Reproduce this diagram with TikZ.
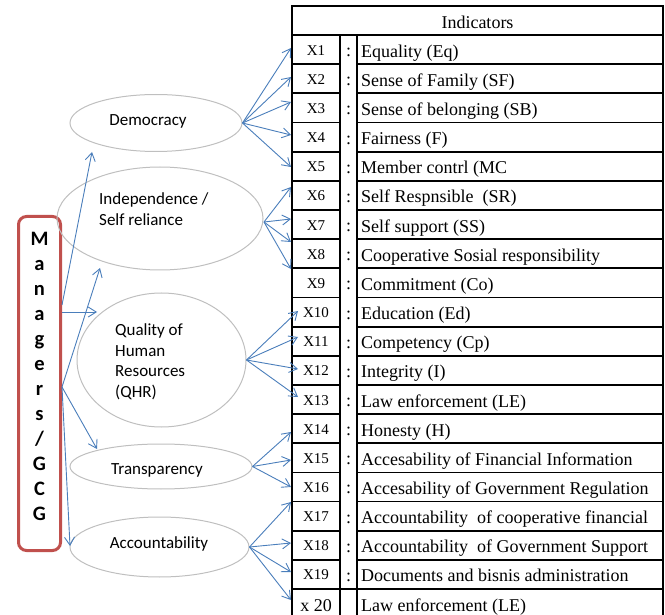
\documentclass[tikz,border=0pt]{standalone}
\usepackage{fontspec}
\setmainfont{Liberation Serif}
\newfontfamily\calfont{Carlito}
\usetikzlibrary{shapes.geometric,arrows.meta}
\definecolor{arrowblue}{HTML}{4A7EBB}
\definecolor{boxred}{HTML}{C0504D}
\definecolor{ellgray}{HTML}{BFBFBF}
\begin{document}
\begin{tikzpicture}[x=1pt,y=-1pt,
  ell/.style={draw=ellgray, line width=1pt, ellipse, inner sep=0pt},
  etxt/.style={inner sep=0pt, font=\calfont\fontsize{17}{20.5}\selectfont},
  arr/.style={draw=arrowblue, line width=0.9pt, -{Straight Barb[length=8pt,width=10pt]}},
  tbl/.style={draw=black, line width=1.8pt, line cap=rect},
  ttxt/.style={inner sep=0pt, font=\fontsize{18}{21}\selectfont},
  xtxt/.style={inner sep=0pt, font=\fontsize{15}{18}\selectfont}]
\useasboundingbox (0,0) rectangle (665,615);
\clip (0,0) rectangle (665,615);

% Managers box
\node[draw=boxred, line width=3pt, rounded corners=8pt, minimum width=42pt, minimum height=334pt, inner sep=0pt] (mgr) at (39.5,383.5) {};
\node[inner sep=0pt, anchor=north, align=center, font=\calfont\bfseries\fontsize{20.5}{25}\selectfont] (mgrtxt) at (39.5,232) {M\\a\\n\\a\\g\\e\\r\\s\\/\\G\\C\\G};

% Ellipses
\node[ell, minimum width=172pt, minimum height=57pt] (dem) at (156,123) {};
\node[ell, minimum width=206pt, minimum height=103pt] (ind) at (160,218.5) {};
\node[ell, minimum width=169pt, minimum height=134pt] (qhr) at (161.5,360) {};
\node[ell, minimum width=182pt, minimum height=45pt] (tra) at (161,466.5) {};
\node[ell, minimum width=179pt, minimum height=60pt] (acc) at (159.5,547) {};

% Ellipse texts
\node[etxt, anchor=base] (demt) at (148,126) {Democracy};
\node[etxt, anchor=base west] (indt1) at (99,205) {Independence /};
\node[etxt, anchor=base west] (indt2) at (99,226) {Self reliance};
\node[etxt, anchor=base west] (qhrt1) at (115,335.5) {Quality of};
\node[etxt, anchor=base west] (qhrt2) at (115,356) {Human};
\node[etxt, anchor=base west] (qhrt3) at (115,376.5) {Resources};
\node[etxt, anchor=base west] (qhrt4) at (115,397) {(QHR)};
\node[etxt, anchor=base] (trat) at (157,474) {Transparency};
\node[etxt, anchor=base] (acct) at (159,548) {Accountability};

% Table lines
\draw[tbl] (292,6) rectangle (663,640);
\draw[tbl] (292,35) -- (663,35);
\foreach \k in {1,...,18} {
  \pgfmathsetmacro\yy{35+29.16*\k}
  \draw[tbl] (292,\yy) -- (340,\yy);
  \draw[tbl] (357,\yy) -- (663,\yy);
}
\draw[tbl] (292,589) -- (663,589);
\draw[tbl] (340,35) -- (340,640);
\draw[tbl] (357,35) -- (357,640);

\node[ttxt, anchor=base] (hdr) at (477.5,28.3) {Indicators};

% Table rows
\foreach \k/\lab/\txt in {
  1/X1/Equality (Eq),
  2/X2/Sense of Family (SF),
  3/X3/Sense of belonging (SB),
  4/X4/Fairness (F),
  5/X5/Member contrl (MC,
  6/X6/Self Respnsible\ \ (SR),
  7/X7/Self support (SS),
  8/X8/Cooperative Sosial responsibility,
  9/X9/Commitment (Co),
  10/X10/Education (Ed),
  11/X11/Competency (Cp),
  12/X12/Integrity (I),
  13/X13/Law enforcement (LE),
  14/X14/Honesty (H),
  15/X15/Accesability of Financial Information,
  16/X16/Accesability of Government Regulation,
  17/X17/Accountability\ \ of cooperative financial,
  18/X18/Accountability\ \ of Government Support,
  19/X19/Documents and bisnis administration} {
  \pgfmathsetmacro\cy{35+29.16*(\k-0.5)}
  \node[xtxt, anchor=base] (lab\k) at (316,\cy+5.5) {\lab};
  \node[ttxt, anchor=base] (col\k) at (348.5,\cy+7) {:};
  \node[ttxt, anchor=base west] (txt\k) at (361,\cy+7.5) {\txt};
}
\node[ttxt, anchor=base] (lab20) at (316,611.5) {x 20};
\node[ttxt, anchor=base west] (txt20) at (361,611.5) {Law enforcement (LE)};

% Target coordinates
\coordinate (t1) at (291,48);
\coordinate (t2) at (291,77);
\coordinate (t3) at (291,102);
\coordinate (t4) at (291,135);
\coordinate (t5) at (291,167);
\coordinate (t6) at (291,187);
\coordinate (t7) at (291,219);
\coordinate (t8) at (291,242);
\coordinate (t9) at (291,269);
\coordinate (t10) at (298,311);
\coordinate (t11) at (298,337);
\coordinate (t12) at (298,369);
\coordinate (t13) at (298,397);
\coordinate (t14) at (291,432);
\coordinate (t15) at (291,460);
\coordinate (t16) at (291,487);
\coordinate (t17) at (291,502);
\coordinate (t18) at (291,543);
\coordinate (t19) at (291,572);
\coordinate (t20) at (291,600);

\coordinate (indsrc) at (264,222);

\foreach \t in {1,...,5} \draw[arr] (dem.east) -- (t\t);
\foreach \t in {6,...,9} \draw[arr] (indsrc) -- (t\t);
\foreach \t in {10,...,13} \draw[arr] (qhr.east) -- (t\t);
\foreach \t in {14,...,16} \draw[arr] (tra.east) -- (t\t);
\foreach \t in {17,...,20} \draw[arr] (acc.east) -- (t\t);

% Managers arrows
\coordinate (ma) at (62,305);
\coordinate (ma2) at (62,312);
\coordinate (mb) at (62,387);
\coordinate (demtip) at (92,152);
\coordinate (qhrtip) at (97,312);
\coordinate (indtip) at (100,268);
\coordinate (tratip) at (97,449);
\coordinate (acctip) at (70,546);
\draw[arr] (ma) -- (demtip);
\draw[arr] (ma2) -- (qhrtip);
\draw[arr] (mb) -- (indtip);
\draw[arr] (mb) -- (tratip);
\draw[arr] (mb) -- (acctip);
\end{tikzpicture}
\end{document}
